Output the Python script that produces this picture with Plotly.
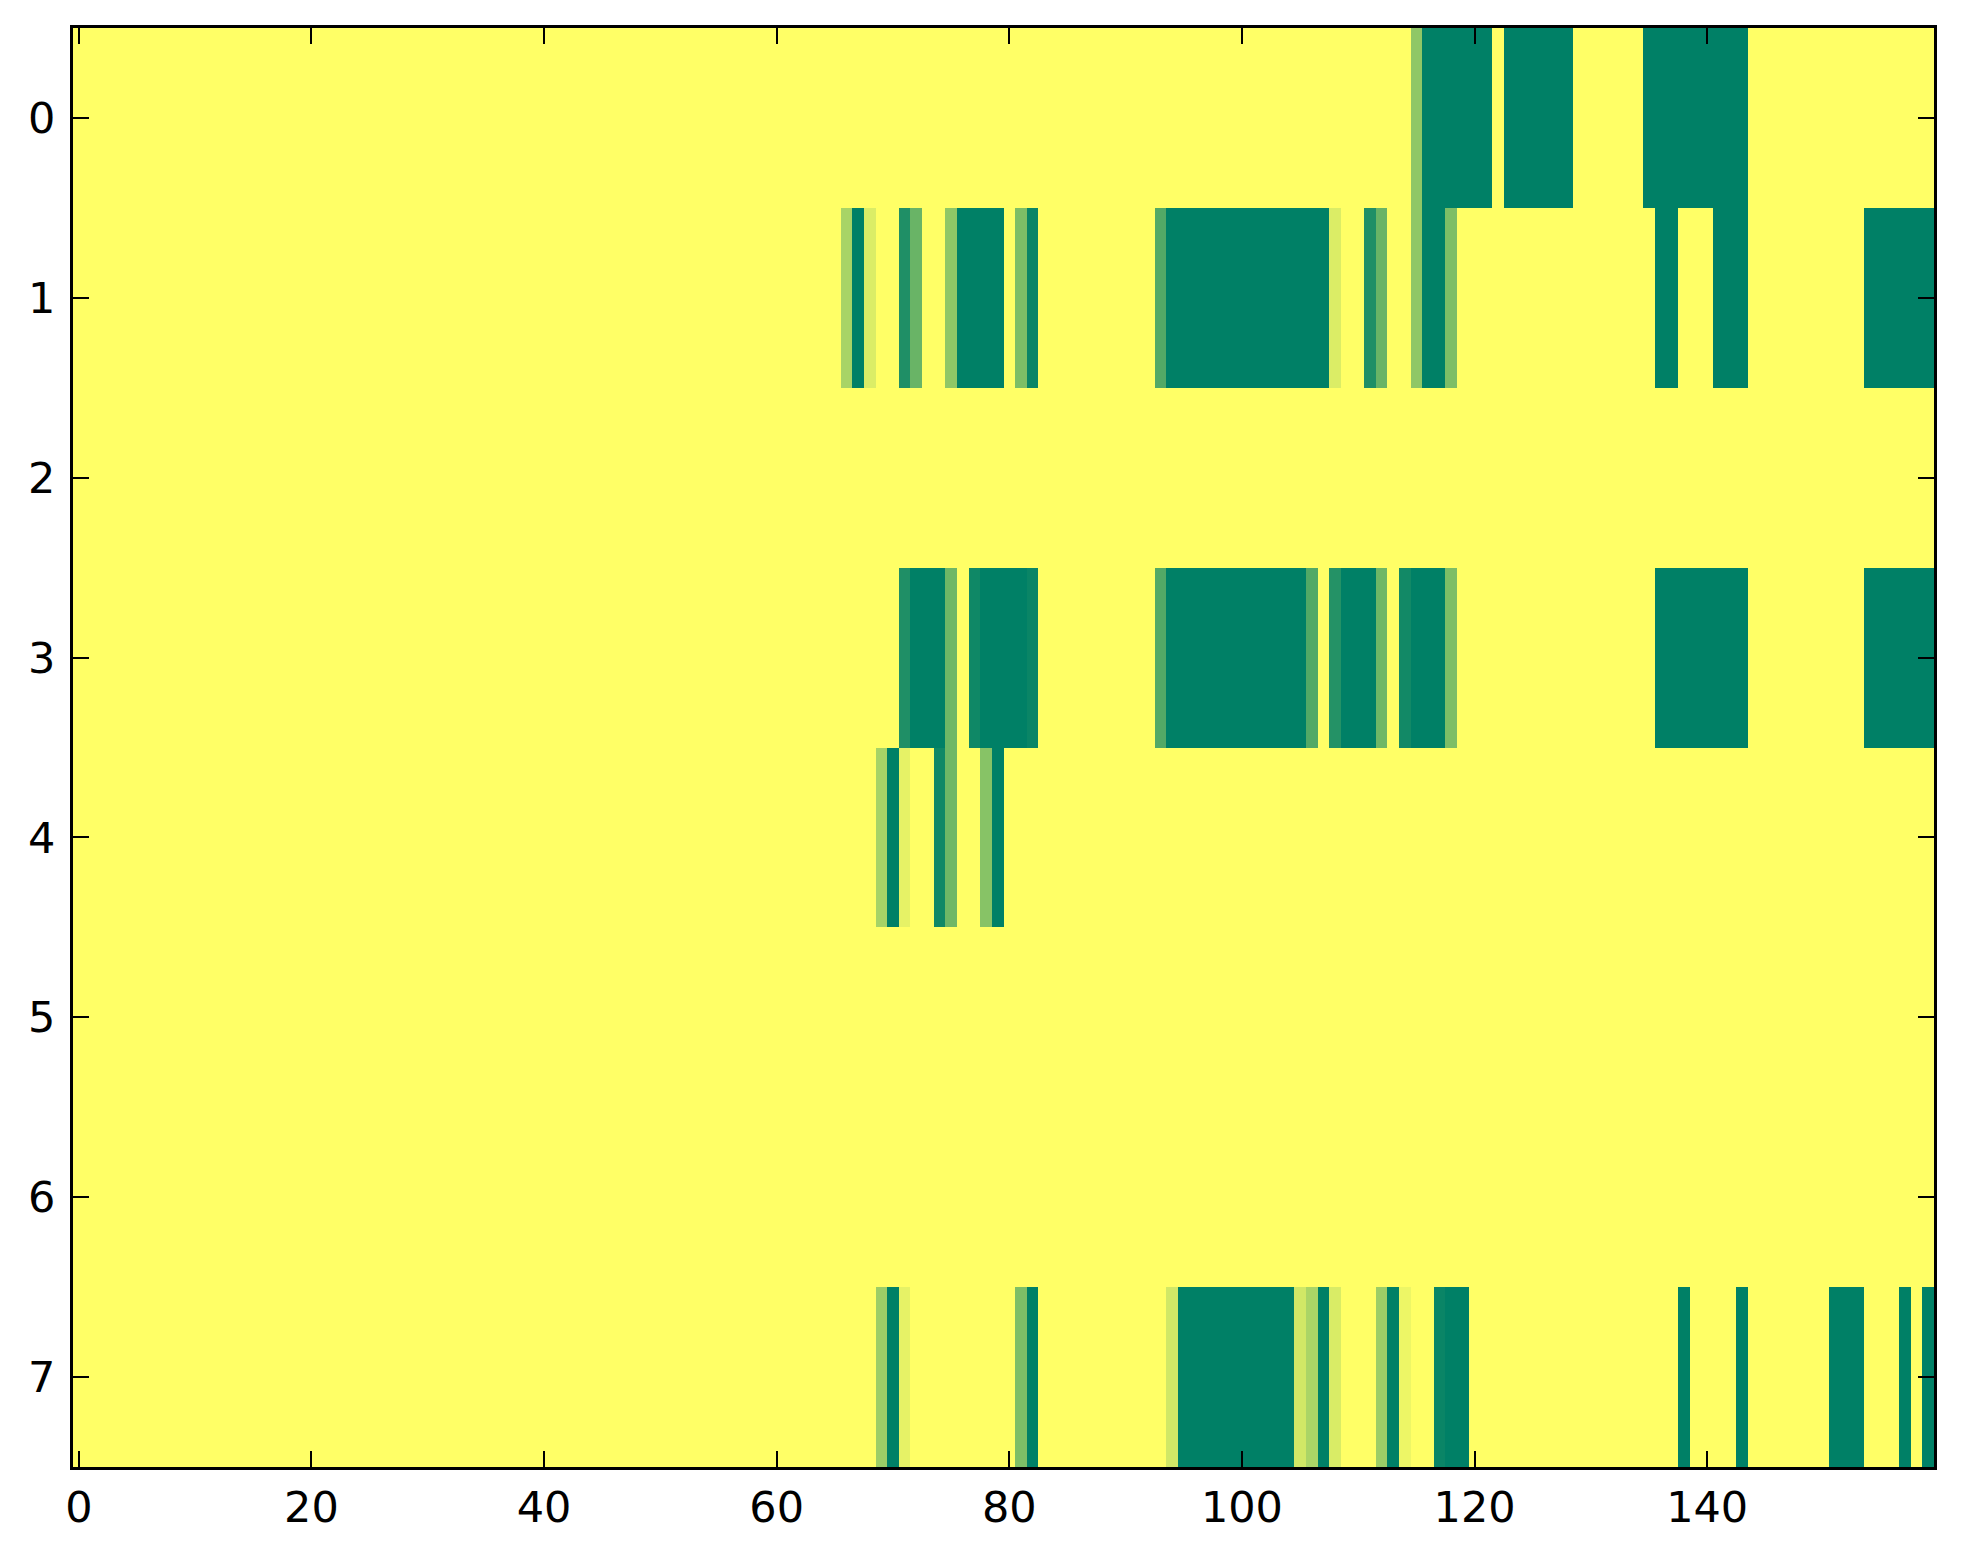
import plotly.graph_objects as go

# Cell values (1 = yellow, 0 = dark green), 8 rows x 160 columns
row0 = [1.0]*115 + [0.56] + [0.0]*6 + [1.0] + [0.0]*6 + [1.0]*6 + [0.0]*9 + [1.0]*16
row1 = ([1.0]*66 + [0.66, 0.0, 0.86, 1.0, 1.0, 0.12, 0.41, 1.0, 1.0, 0.56] + [0.0]*4 +
        [1.0, 0.49, 0.04] + [1.0]*10 + [0.32] + [0.0]*14 + [0.86, 1.0, 1.0, 0.12, 0.41, 1.0, 1.0, 0.56] +
        [0.0]*2 + [0.49] + [1.0]*17 + [0.0]*2 + [1.0]*3 + [0.0]*3 + [1.0]*10 + [0.0]*6)
row2 = [1.0]*160
row3 = ([1.0]*71 + [0.12] + [0.0]*3 + [0.43, 1.0, 0.06] + [0.0]*4 + [0.04] + [1.0]*10 + [0.32] +
        [0.0]*12 + [0.32, 1.0, 0.14] + [0.0]*3 + [0.43, 1.0, 0.07] + [0.0]*3 + [0.49] + [1.0]*17 +
        [0.0]*8 + [1.0]*10 + [0.0]*6)
row4 = [1.0]*69 + [0.65, 0.0, 0.9, 1.0, 1.0, 0.06, 0.43, 1.0, 1.0, 0.53, 0.0] + [1.0]*80
row5 = [1.0]*160
row6 = [1.0]*160
row7 = ([1.0]*69 + [0.61, 0.0, 0.9] + [1.0]*9 + [0.49, 0.0] + [1.0]*11 + [0.82] + [0.0]*10 +
        [0.82, 0.67, 0.0, 0.85] + [1.0]*3 + [0.61, 0.0, 0.93] + [1.0]*2 + [0.04] + [0.0]*2 +
        [1.0]*18 + [0.0] + [1.0]*4 + [0.0] + [1.0]*7 + [0.0]*3 + [1.0]*3 + [0.0, 1.0, 0.0])

z = [row0, row1, row2, row3, row4, row5, row6, row7]
columns = list(range(160))
rows = list(range(8))
x_ticks = [0, 20, 40, 60, 80, 100, 120, 140]
y_ticks = [0, 1, 2, 3, 4, 5, 6, 7]

summer = [[0.0, "rgb(0,128,102)"], [1.0, "rgb(255,255,102)"]]

fig = go.Figure(go.Heatmap(
    z=z, x=columns, y=rows, colorscale=summer, zmin=0, zmax=1,
    showscale=False, hoverongaps=False,
))

axis_common = dict(
    showline=True, linewidth=3, linecolor="black", mirror="ticks",
    ticks="inside", ticklen=16, tickwidth=2, tickcolor="black",
    showgrid=False, zeroline=False,
    tickfont=dict(family="DejaVu Sans", size=43, color="black"),
)

fig.update_xaxes(range=[-0.5, 159.5], tickvals=x_ticks, ticktext=[str(v) for v in x_ticks], **axis_common)
fig.update_yaxes(range=[7.5, -0.5], tickvals=y_ticks, ticktext=[str(v) for v in y_ticks],
                 ticklabelstandoff=6, **axis_common)

fig.update_layout(
    width=1955, height=1556,
    margin=dict(l=65, r=29, t=20, b=97),
    paper_bgcolor="white", plot_bgcolor="white",
)

fig.write_html("out.html")
